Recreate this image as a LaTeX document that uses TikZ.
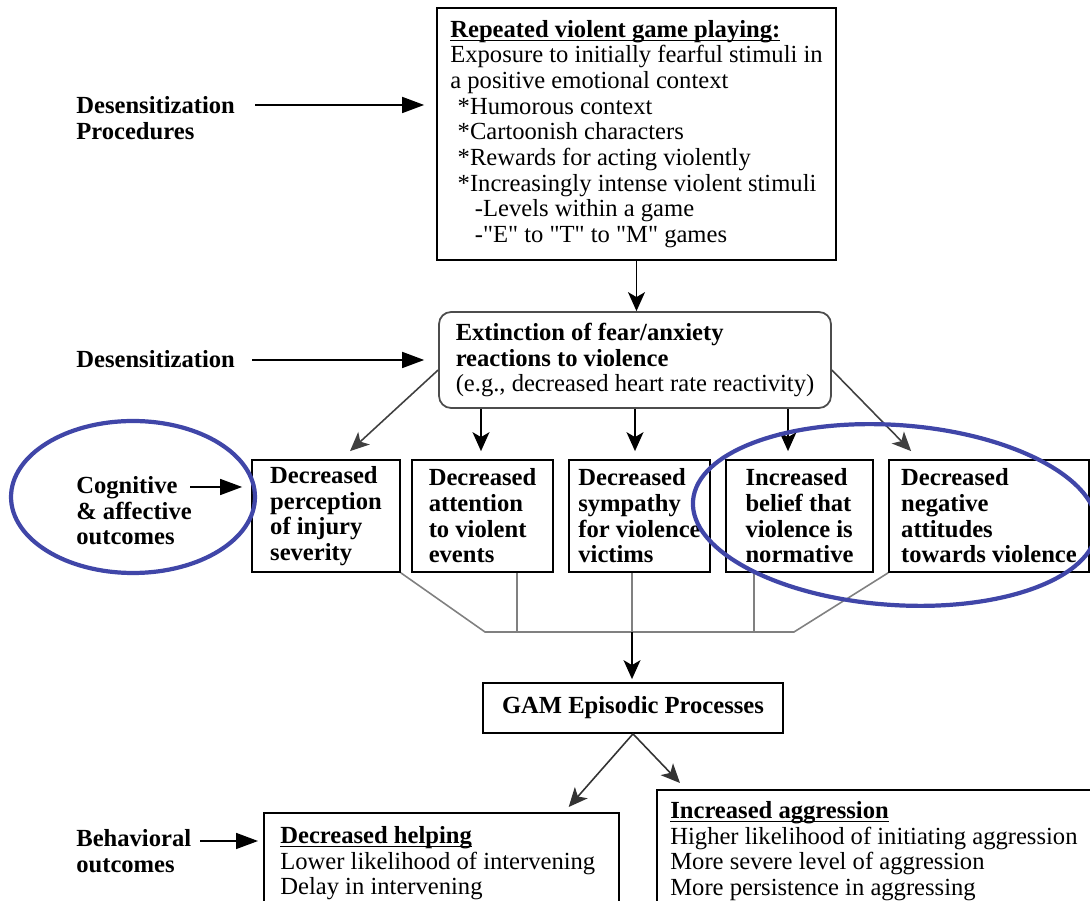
\documentclass[tikz,border=0pt]{standalone}
\usepackage{fontspec}
\setmainfont{Liberation Serif}[Ligatures=TeXOff]
\usepackage{tikz}
\usetikzlibrary{arrows.meta}
\usetikzlibrary{calc}
\usetikzlibrary{positioning}
\definecolor{ringblue}{RGB}{64,70,168}
\newcommand{\undl}[1]{\setbox0=\hbox{#1}\rlap{\rule[-2.2pt]{\wd0}{0.8pt}}#1}

\begin{document}
\begin{tikzpicture}[x=0.02cm, y=-0.02cm, font=\fontsize{14}{14.6}\selectfont]
  \tikzstyle{box}=[draw, line width=1pt, align=left, inner sep=0pt]
  \tikzstyle{outc}=[box, minimum height=2.24cm, font=\fontsize{14}{14.6}\selectfont\bfseries]
  \tikzstyle{txt}=[align=left, inner sep=0pt, anchor=north west]
  \tikzstyle{lab}=[txt, font=\fontsize{14}{14.6}\selectfont\bfseries]
  \tikzstyle{arr}=[-{Stealth[length=0.38cm, width=0.34cm, inset=0.1cm]}, line width=0.9pt]
  \tikzstyle{side}=[-{Triangle[length=0.44cm, width=0.32cm]}, line width=0.9pt]
  \tikzstyle{mergeline}=[draw=black!50, line width=0.9pt]
  \tikzstyle{ring}=[draw=ringblue, line width=2.4pt]

  \useasboundingbox (0,0) rectangle (1090,901);
  \clip (0,0) rectangle (1090,901);

  % main column
  \node[box, minimum width=7.98cm, minimum height=5.04cm] (game) at (636.5,134)
    {\undl{\textbf{Repeated violent game playing:}}\\
     Exposure to initially fearful stimuli in\\
     a positive emotional context\\
     \hspace*{0.3em}*Humorous context\\
     \hspace*{0.3em}*Cartoonish characters\\
     \hspace*{0.3em}*Rewards for acting violently\\
     \hspace*{0.3em}*Increasingly intense violent stimuli\\
     \hspace*{1em}-Levels within a game\\
     \hspace*{1em}-"E" to "T" to "M" games};
  \node[box, rounded corners=0.24cm, draw=black!70, minimum width=7.84cm, minimum height=1.92cm] (ext) at (635,360)
    {\textbf{Extinction of fear/anxiety}\\
     \textbf{reactions to violence}\\
     (e.g., decreased heart rate reactivity)};

  \node[outc, minimum width=2.96cm] (c1) at (326,516) {Decreased\\perception\\of injury\\severity};
  \node[outc, minimum width=2.82cm] (c2) at (482.5,516) {Decreased\\attention\\to violent\\events};
  \node[outc, minimum width=2.82cm] (c3) at (639.5,516) {Decreased\\sympathy\\for violence\\victims};
  \node[outc, minimum width=2.94cm] (c4) at (799.5,516) {Increased\\belief that\\violence is\\normative};
  \node[outc, minimum width=4cm] (c5) at (989,516) {Decreased\\negative\\attitudes\\towards violence};

  \node[box, minimum width=6cm, minimum height=1cm, font=\fontsize{14}{14.6}\selectfont\bfseries] (gam) at (633,708) {GAM Episodic Processes};

  \node[box, minimum width=7.1cm, minimum height=2cm, anchor=north west] (help) at (263,812) {};
  \node[txt] (helptxt) at (280,826)
    {\undl{\textbf{Decreased helping}}\\
     Lower likelihood of intervening\\
     Delay in intervening};
  \node[box, minimum width=9.4cm, minimum height=2.5cm, anchor=north west] (aggr) at (656,789) {};
  \node[txt] (aggrtxt) at (670,801)
    {\undl{\textbf{Increased aggression}}\\
     Higher likelihood of initiating aggression\\
     More severe level of aggression\\
     More persistence in aggressing};

  % side labels
  \node[lab] (l1) at (76,96) {Desensitization\\Procedures};
  \node[lab] (l2) at (76,350) {Desensitization};
  \node[lab] (l3) at (76,476) {Cognitive\\\& affective\\outcomes};
  \node[lab] (l4) at (76,829) {Behavioral\\outcomes};

  \coordinate (s1) at (255,105);
  \coordinate (s2) at (252,360);
  \coordinate (s3) at (190,487);
  \coordinate (s4) at (200,841);
  \draw[side, shorten >=0.24cm] (s1) -- (s1 -| game.west);
  \draw[side, shorten >=0.28cm] (s2) -- (s2 -| ext.west);
  \draw[side, shorten >=0.18cm] (s3) -- (s3 -| c1.west);
  \draw[side, shorten >=0.1cm] (s4) -- (s4 -| help.west);

  % arrows
  \draw[arr] (game.south) -- (game.south |- ext.north);
  \coordinate (e2) at ($(ext.south)+(-154,0)$);
  \coordinate (e4) at ($(ext.south)+(153,0)$);
  \draw[arr, draw=black!75] ($(ext.west)+(0,10)$) -- ($(c1.north)+(24,-8)$);
  \draw[arr, shorten >=0.16cm] (e2) -- (e2 |- c2.north);
  \draw[arr, shorten >=0.16cm] (ext.south) -- (ext.south |- c3.north);
  \draw[arr, shorten >=0.16cm] (e4) -- (e4 |- c4.north);
  \draw[arr, draw=black!75] ($(ext.east)+(0,10)$) -- ($(c5.north west)+(23,-8)$);

  % merging lines
  \coordinate (mL) at (485,632);
  \coordinate (mR) at (794,632);
  \coordinate (m2) at (517,632);
  \coordinate (m3) at (632,632);
  \coordinate (m4) at (754,632);
  \draw[mergeline] (c1.south east) -- (mL) -- (mR) -- (c5.south west);
  \foreach \i in {2,3,4}{
    \draw[mergeline] (m\i) -- (m\i |- c\i.south);
  }
  \draw[arr, shorten >=0.06cm] (m3) -- (m3 |- gam.north);

  \draw[arr, draw=black!80] (gam.south) -- ($(help.north east)+(-51,-5)$);
  \draw[arr, draw=black!80] (gam.south) -- ($(aggr.north west)+(24,-6)$);

  % highlight rings
  \draw[ring] (133,497) ellipse [x radius=2.44cm, y radius=1.52cm];
  \draw[ring, rotate around={-4:(895,515)}] (895,515) ellipse [x radius=4.05cm, y radius=1.8cm];
\end{tikzpicture}
\end{document}
